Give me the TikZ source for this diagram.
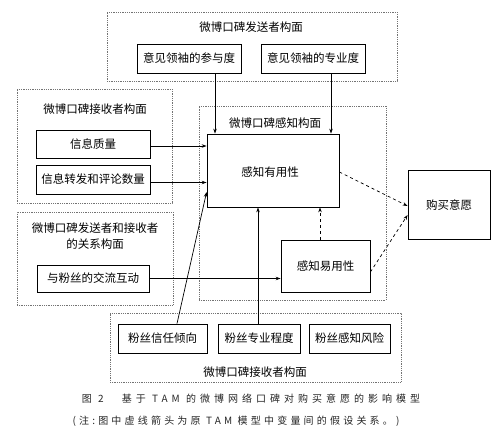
\documentclass[tikz,border=0pt]{standalone}
\usepackage{fontspec}
\setmainfont{Noto Sans CJK SC}
\newfontfamily\capfont[LetterSpace=40]{Noto Sans CJK SC}
\newfontfamily\capfontb[LetterSpace=32]{Noto Sans CJK SC}
\usetikzlibrary{arrows.meta}
\begin{document}
\begin{tikzpicture}[x=1pt,y=-1pt,font=\fontsize{11.5}{14}\selectfont,
  grp/.style={draw=gray!90!black, densely dotted, line width=0.8pt, inner sep=0, minimum height=#1},
  bx/.style={draw, line width=0.8pt, inner sep=0, fill=white},
  arr/.style={-{Stealth[length=5pt,width=3.5pt]}, line width=0.7pt},
  darr/.style={arr, dashed}]
\useasboundingbox[fill=white] (0,0) rectangle (502,438);
% groups
\node[grp=69, minimum width=290] (gtop) at (252,46.5) {};
\node (ttop) at (251,27) {微博口碑发送者构面};
\node[grp=114, minimum width=155] (gl1) at (94.5,146) {};
\node (tl1) at (95,109) {微博口碑接收者构面};
\node[grp=194, minimum width=187] (gp) at (292.5,203) {};
\node (tp) at (275,123) {微博口碑感知构面};
\node[grp=93, minimum width=156] (gl2) at (95,258.5) {};
\node[align=center, font=\fontsize{11.5}{16}\selectfont] (tl2) at (95,236) {微博口碑发送者和接收者\\的关系构面};
\node[grp=69, minimum width=291] (gb) at (255.5,347.5) {};
\node (tb) at (255,372) {微博口碑接收者构面};
% boxes
\node[bx, minimum width=104, minimum height=29] (pb1) at (189,58.5) {意见领袖的参与度};
\node[bx, minimum width=104, minimum height=29] (pb2) at (313,58.5) {意见领袖的专业度};
\node[bx, minimum width=114, minimum height=28] (info1) at (93,144) {信息质量};
\node[bx, minimum width=114, minimum height=29] (info2) at (93,179.5) {信息转发和评论数量};
\node[bx, minimum width=112, minimum height=27] (inter) at (93,278.5) {与粉丝的交流互动};
\node[bx, minimum width=132, minimum height=73] (pu) at (273,170.5) {};
\node (tpu) at (270,172) {感知有用性};
\node[bx, minimum width=89, minimum height=52] (peou) at (325.5,266) {感知易用性};
\node[bx, minimum width=82, minimum height=69] (buy) at (449,205) {购买意愿};
\node[bx, minimum width=89, minimum height=29] (f1) at (162.5,338.5) {粉丝信任倾向};
\node[bx, minimum width=82, minimum height=29] (f2) at (259,338.5) {粉丝专业程度};
\node[bx, minimum width=81, minimum height=29] (f3) at (349.5,338.5) {粉丝感知风险};
% arrows
\draw[arr] ([xshift=26pt]pb1.south) -- ([xshift=26pt]pb1.south |- pu.north);
\draw[arr] ([xshift=18pt]pb2.south) -- ([xshift=18pt]pb2.south |- pu.north);
\draw[arr] ([yshift=-2pt]info1.east) -- ([yshift=-2pt]info1.east -| pu.west);
\draw[arr] ([yshift=-3pt]info2.east) -- ([yshift=-3pt]info2.east -| pu.west);
\draw[arr] ([xshift=14.5pt]f1.north) -- ([yshift=-21.5pt]pu.west);
\draw[arr] ([xshift=-1pt]f2.north) -- ([xshift=-1pt]f2.north |- pu.south);
\draw[arr] (inter.east) -- (inter.east -| peou.west);
\draw[darr] ([xshift=-5.5pt]peou.north) -- ([xshift=-5.5pt]peou.north |- pu.south);
\draw[darr] ([yshift=-1.5pt]pu.east) -- ([yshift=-1pt]buy.west);
\draw[darr] ([yshift=-6pt]peou.east) -- ([yshift=-10pt]buy.west);
% caption
\node[font=\capfont\fontsize{10}{12}\selectfont, text=black!85] (cap1) at (251,399) {图 2　基于 TAM 的微博网络口碑对购买意愿的影响模型};
\node[font=\capfontb\fontsize{10}{12}\selectfont, text=black!85] (cap2) at (236,421) {(注:图中虚线箭头为原 TAM 模型中变量间的假设关系。)};
\end{tikzpicture}
\end{document}
